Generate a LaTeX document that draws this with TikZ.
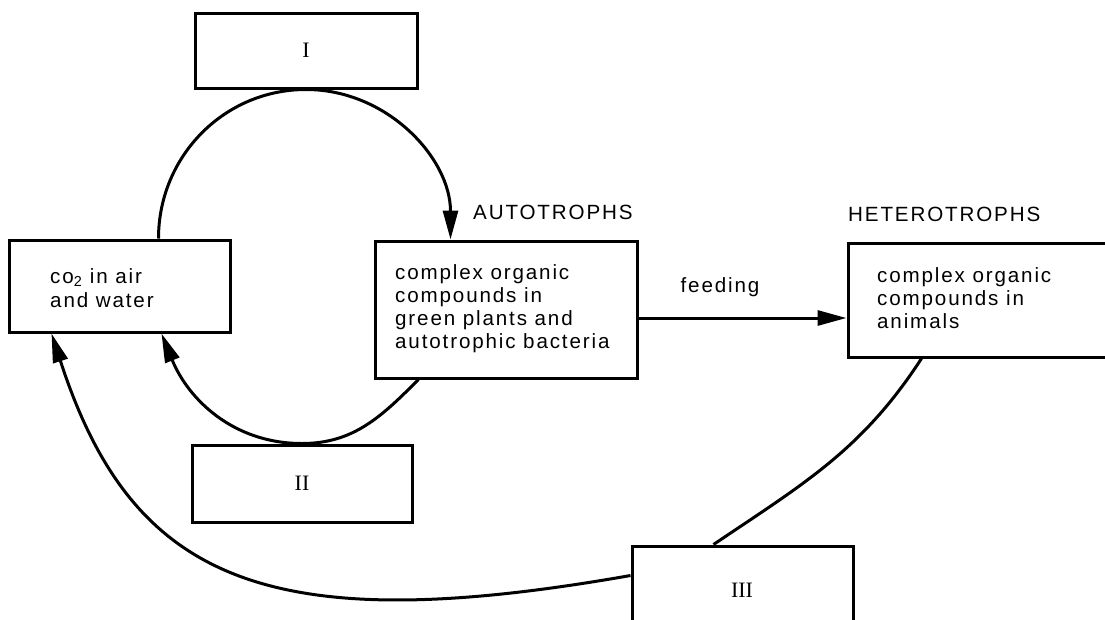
\documentclass[tikz,border=0pt]{standalone}
\usepackage{fontspec}
\setmainfont{Liberation Sans}[LetterSpace=9]
\newfontfamily\numfont{Liberation Serif}
\usetikzlibrary{arrows.meta,calc}
\begin{document}
\begin{tikzpicture}[x=1pt,y=1pt,
  box/.style={draw, line width=3pt, inner sep=0},
  txt/.style={inner sep=0, align=left, font=\fontsize{20.6}{22.7}\selectfont},
  head/.style={inner sep=0, font=\fontsize{20.6}{24}\selectfont},
  num/.style={inner sep=0, font=\numfont\fontsize{22}{24}\selectfont},
  conn/.style={line width=3pt},
  arr/.style={conn, -{Triangle[length=29pt,width=15pt]}}]
\useasboundingbox (0,0) rectangle (1105,-619);
\clip (0,0) rectangle (1105,-619);
\fill[white] (0,0) rectangle (1105,-619);

% boxes
\node[box, num, minimum width=222pt, minimum height=75pt] (I) at (306,-50.5) {I};
\node[box, minimum width=221pt, minimum height=92pt] (co2) at (119.5,-286) {};
\node[box, minimum width=262pt, minimum height=137pt] (auto) at (506,-309.5) {};
\node[box, minimum width=282pt, minimum height=114pt] (hetero) at (989,-300) {};
\node[box, num, minimum width=220pt, minimum height=77pt] (II) at (302,-483.5) {II};
\node[box, minimum width=221pt, minimum height=108pt] (III) at (742.5,-600) {};
\node[num] (IIInum) at (742,-590) {III};

% texts (base = baseline of the last line)
\node[txt, anchor=base west] (co2txt) at (50,-307) {co\textsubscript{2} in air\\[1.3pt]and water};
\node[txt, anchor=base west] (autotxt) at (395,-348) {complex organic\\compounds in\\green plants and\\autotrophic bacteria};
\node[txt, anchor=base west] (heterotxt) at (877,-328) {complex organic\\compounds in\\animals};
\node[head, anchor=base west] (autohead) at (473,-219) {AUTOTROPHS};
\node[head, anchor=base west] (heterohead) at (848,-221) {HETEROTROPHS};
\node[head, anchor=base] (feed) at (720,-292) {feeding};

% connectors
\draw[arr] ([yshift=-8.5pt]auto.east) -- ([yshift=-18pt]hetero.west);
\draw[arr] ([xshift=151pt]co2.north west) to[out=90,in=180] (I.south)
           to[out=0,in=90] ([xshift=77pt]auto.north west);
\draw[arr] ([xshift=45pt]auto.south west) to[out=225,in=0] (II.north)
           to[out=180,in=-68] ([xshift=154pt]co2.south west);
\draw[conn] ([xshift=75pt]hetero.south west) to[out=237,in=34] ([xshift=83pt]III.north west);
\draw[arr] ([yshift=-31pt]III.north west) .. controls +(190:370) and +(-72:260) .. ([xshift=44pt]co2.south west);
\end{tikzpicture}
\end{document}
